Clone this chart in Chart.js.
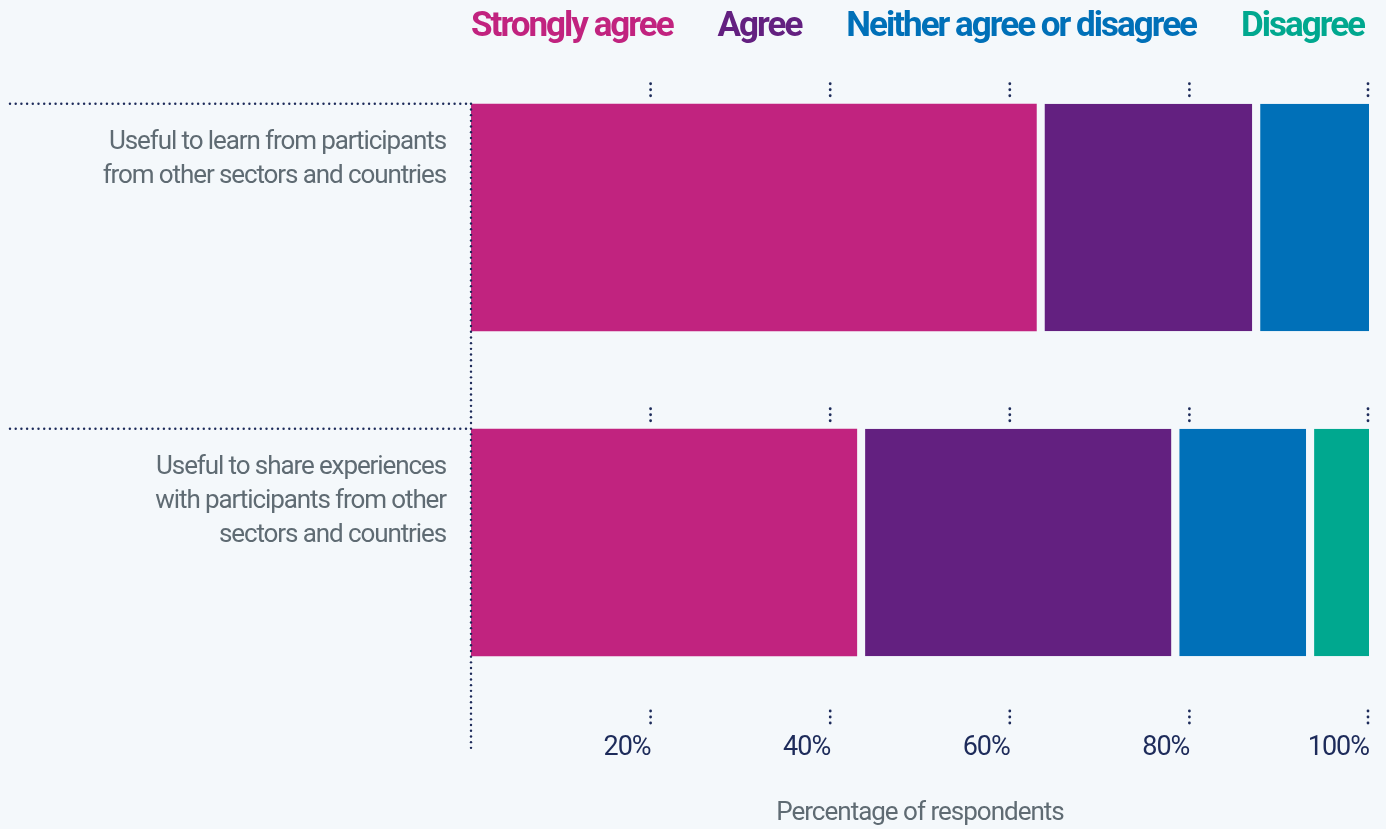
<!DOCTYPE html>
<html>
<head>
<meta charset="utf-8">
<script src="https://cdn.jsdelivr.net/npm/chart.js@4/dist/chart.umd.min.js"></script>
<style>
    html, body { margin: 0; padding: 0; background: #f4f8fb; }
    #wrap { position: relative; width: 1386px; height: 829px; }
    #legend {
        position: absolute; top: 8px; left: 471px; width: 893px;
        display: flex; justify-content: space-between;
        font-family: 'Roboto', sans-serif;
        font-weight: bold; font-size: 35px; line-height: 34px;
        letter-spacing: -2px;
    }
</style>
</head>
<body>
<div id="wrap">
    <canvas id="chart" width="1386" height="829"></canvas>
    <div id="legend"></div>
</div>
<script>
// Data
const categories = [
    ['Useful to learn from participants', 'from other sectors and countries'],
    ['Useful to share experiences', 'with participants from other', 'sectors and countries']
];
const stronglyAgree = [63, 43];
const agree = [24, 35];
const neither = [13, 15];
const disagree = [0, 7];
const seriesNames = ['Strongly agree', 'Agree', 'Neither agree or disagree', 'Disagree'];
const seriesColors = ['#c1237f', '#632080', '#0070b8', '#00a88f'];
const xTicks = [20, 40, 60, 80, 100];

const BG = '#f4f8fb';
const NAVY = '#1d2b5a';
const GREY = '#5f6b73';
const FONT = "'Roboto', sans-serif";

const seriesData = [stronglyAgree, agree, neither, disagree];

// Legend (html, coloured text)
const legendEl = document.getElementById('legend');
seriesNames.forEach((name, i) => {
    const span = document.createElement('span');
    span.textContent = name;
    span.style.color = seriesColors[i];
    legendEl.appendChild(span);
});

// gap on the left of every segment after the first
function segBorder(ctx) {
    return { left: ctx.datasetIndex === 0 ? 0 : 8, right: 0, top: 0, bottom: 0 };
}

function dot(ctx, x, y, r) {
    ctx.beginPath();
    ctx.arc(x, y, r, 0, Math.PI * 2);
    ctx.fill();
}

const decorPlugin = {
    id: 'decor',
    beforeDraw(chart) {
        // tighter text, the original uses a narrow face
        chart.ctx.letterSpacing = '-1px';
    },
    afterDraw(chart) {
        const ctx = chart.ctx;
        const xs = chart.scales.x;
        const area = chart.chartArea;
        const bars = chart.getDatasetMeta(0).data;
        ctx.save();
        ctx.fillStyle = NAVY;

        const tops = bars.map(b => b.y - b.height / 2);

        // vertical dotted axis line
        for (let y = tops[0]; y <= area.bottom + 43; y += 5.7) {
            dot(ctx, area.left, y, 1.2);
        }

        tops.forEach((top, i) => {
            // horizontal dotted line to the left
            for (let x = 10; x <= area.left; x += 5.7) {
                dot(ctx, x, top, 1.2);
            }
            // tick dots above the bar
            xTicks.forEach(v => {
                const px = Math.min(xs.getPixelForValue(v), area.right - 1);
                [20, 14, 8].forEach(d => dot(ctx, px, top - d, 1.4));
            });
            // category label, top aligned to bar
            ctx.fillStyle = GREY;
            ctx.font = '26px ' + FONT;
            ctx.letterSpacing = '-1.1px';
            ctx.textAlign = 'right';
            ctx.textBaseline = 'middle';
            categories[i].forEach((line, j) => {
                ctx.fillText(line, area.left - 25, top + 39 + j * 34);
            });
            ctx.fillStyle = NAVY;
        });

        // bottom tick dots
        xTicks.forEach(v => {
            const px = Math.min(xs.getPixelForValue(v), area.right - 1);
            [6, 12, 18].forEach(d => dot(ctx, px, area.bottom + d, 1.4));
        });
        ctx.restore();
    }
};

new Chart(document.getElementById('chart'), {
    type: 'bar',
    data: {
        labels: categories,
        datasets: seriesNames.map((name, i) => ({
            label: name,
            data: seriesData[i],
            backgroundColor: seriesColors[i],
            borderColor: BG,
            borderWidth: segBorder,
            borderSkipped: false,
            categoryPercentage: 1,
            barPercentage: 0.7
        }))
    },
    options: {
        indexAxis: 'y',
        responsive: false,
        animation: false,
        layout: { padding: { top: 55, right: 17, left: 0, bottom: 0 } },
        scales: {
            x: {
                stacked: true,
                min: 0,
                max: 100,
                grid: { display: false, drawTicks: false },
                border: { display: false },
                ticks: {
                    stepSize: 20,
                    align: 'end',
                    padding: 27,
                    color: NAVY,
                    font: { family: FONT, size: 27 },
                    callback: v => (v === 0 ? '' : v + '%')
                },
                title: {
                    display: true,
                    text: 'Percentage of respondents',
                    color: GREY,
                    font: { family: FONT, size: 26 },
                    padding: { top: 0, bottom: 0 }
                },
                afterFit(scale) {
                    scale.height = 124;
                    scale.paddingLeft = 0;
                    scale.paddingRight = 0;
                }
            },
            y: {
                stacked: true,
                grid: { display: false },
                border: { display: false },
                ticks: { display: false },
                afterFit(scale) { scale.width = 471; }
            }
        },
        plugins: {
            legend: { display: false },
            tooltip: { enabled: false }
        }
    },
    plugins: [decorPlugin]
});
</script>
</body>
</html>
